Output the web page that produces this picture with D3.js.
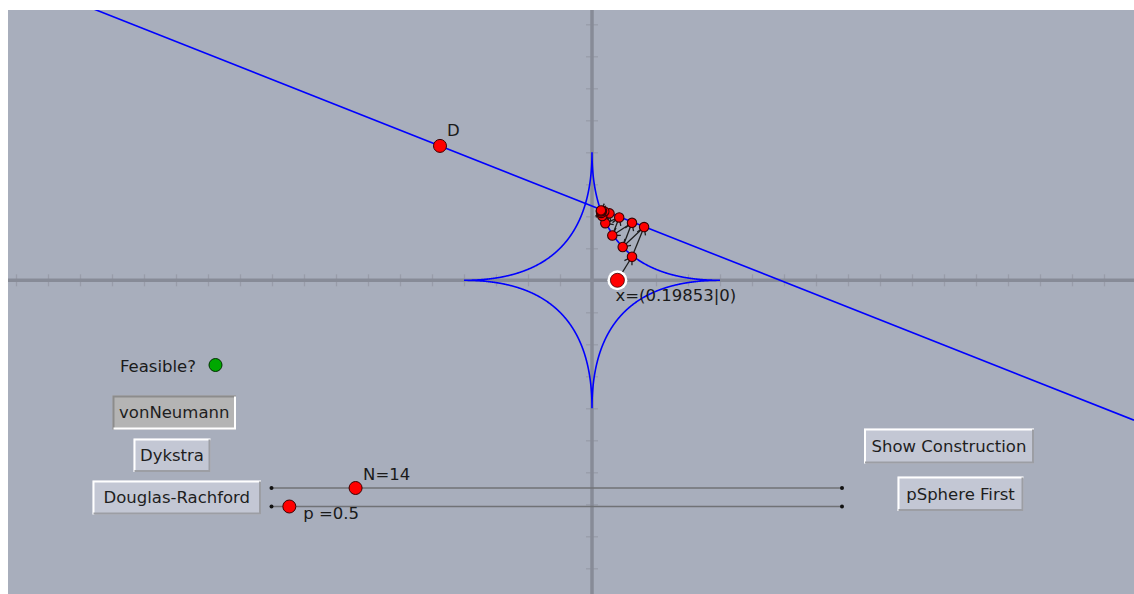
<!DOCTYPE html>
<html><head><meta charset="utf-8">
<script src="https://cdn.jsdelivr.net/npm/d3@7"></script>
<style>
body{margin:0;background:#fff}
svg{display:block;font-family:"DejaVu Sans",sans-serif}
</style>
</head><body>
<svg id="c" width="1134" height="594"></svg>
<script>
// ---------- data ----------
const pExponent = 0.5;           // p of the p-sphere
const iterCount = 14;            // N
const startPoint = [0.19853, 0]; // x
const pointD = [-1.1875, 1.05];  // D on the line
const lineAxisPoint = [1.46875, 0]; // second point defining the line
const curveIterates = [
  [0.3125, 0.184], [0.2398, 0.260], [0.1586, 0.350], [0.1039, 0.446],
  [0.080, 0.502], [0.072, 0.526], [0.0695, 0.538]
];
const lineIterates = [
  [0.4070, 0.416], [0.3125, 0.449], [0.2125, 0.491], [0.1367, 0.523],
  [0.096, 0.538], [0.078, 0.544], [0.070, 0.546]
];
const tickStep = 0.25;
const buttonLabels = ["vonNeumann", "Dykstra", "Douglas-Rachford", "Show Construction", "pSphere First"];
const buttonPressed = [true, false, false, false, false];
const sliderNames = ["N", "p "];
const sliderValues = [iterCount, pExponent];
const sliderMin = [0, 0];
const sliderMax = [95, 16];
const feasibleLabel = "Feasible?";

// ---------- layout ----------
const W = 1134, H = 594;
const plotLeft = 8, plotTop = 10;
const ox = 592, oy = 280.3, unit = 128;
const FS = 16.5;
const x = d3.scaleLinear().domain([(plotLeft - ox) / unit, (W - ox) / unit]).range([plotLeft, W]);
const y = d3.scaleLinear().domain([(oy - plotTop) / unit, (oy - H) / unit]).range([plotTop, H]);

const svg = d3.select("#c");
svg.append("defs").append("clipPath").attr("id", "plot")
  .append("rect").attr("x", plotLeft).attr("y", plotTop).attr("width", W - plotLeft).attr("height", H - plotTop);
svg.append("rect").attr("x", plotLeft).attr("y", plotTop).attr("width", W - plotLeft).attr("height", H - plotTop)
  .attr("fill", "#a8aebc");
const g = svg.append("g").attr("clip-path", "url(#plot)");

// axes
const [x0, x1] = x.domain(), [y1, y0] = y.domain();
const xTicks = d3.range(Math.ceil(x0 / tickStep) * tickStep, x1, tickStep);
const yTicks = d3.range(Math.ceil(y0 / tickStep) * tickStep, y1, tickStep);
const xAxis = g.append("g").attr("transform", `translate(0,${y(0) - 6})`)
  .call(d3.axisBottom(x).tickValues(xTicks).tickSize(12).tickFormat(""));
const yAxis = g.append("g").attr("transform", `translate(${x(0) + 6},0)`)
  .call(d3.axisLeft(y).tickValues(yTicks).tickSize(12).tickFormat(""));
[xAxis, yAxis].forEach(a => {
  a.select(".domain").remove();
  a.selectAll(".tick line").attr("stroke", "#989ca9").attr("stroke-width", 1.3);
});
g.append("line").attr("x1", plotLeft).attr("x2", W).attr("y1", y(0)).attr("y2", y(0))
  .attr("stroke", "#878b97").attr("stroke-width", 3.5);
g.append("line").attr("y1", plotTop).attr("y2", H).attr("x1", x(0)).attr("x2", x(0))
  .attr("stroke", "#878b97").attr("stroke-width", 3.5);

// p-sphere |x|^p + |y|^p = 1
const e = 2 / pExponent;
const th = d3.range(0, 2 * Math.PI + 1e-9, Math.PI / 1200);
const curvePts = th.map(t => {
  const c = Math.cos(t), s = Math.sin(t);
  return [Math.sign(c) * Math.pow(Math.abs(c), e), Math.sign(s) * Math.pow(Math.abs(s), e)];
});
g.append("path").datum(curvePts)
  .attr("d", d3.line().x(d => x(d[0])).y(d => y(d[1])))
  .attr("fill", "none").attr("stroke", "#0000ff").attr("stroke-width", 1.6);

// line through D
const slope = (lineAxisPoint[1] - pointD[1]) / (lineAxisPoint[0] - pointD[0]);
const lx = [x0, x1];
g.append("line")
  .attr("x1", x(lx[0])).attr("y1", y(pointD[1] + slope * (lx[0] - pointD[0])))
  .attr("x2", x(lx[1])).attr("y2", y(pointD[1] + slope * (lx[1] - pointD[0])))
  .attr("stroke", "#0000ff").attr("stroke-width", 1.6);

// iteration vectors
const chain = [startPoint];
curveIterates.forEach((c, i) => { chain.push(c); chain.push(lineIterates[i]); });
const segs = d3.pairs(chain);
const vg = g.append("g").attr("stroke", "#1e1e1e").attr("stroke-width", 1.3).attr("fill", "none");
segs.forEach(([a, b]) => {
  const ax = x(a[0]), ay = y(a[1]), bx = x(b[0]), by = y(b[1]);
  vg.append("line").attr("x1", ax).attr("y1", ay).attr("x2", bx).attr("y2", by);
  const ang = Math.atan2(by - ay, bx - ax), L = 8.5, s = 0.55;
  vg.append("path").attr("d",
    `M${bx - L * Math.cos(ang - s)},${by - L * Math.sin(ang - s)}L${bx},${by}L${bx - L * Math.cos(ang + s)},${by - L * Math.sin(ang + s)}`);
});

// iterate points
const allIter = [];
curveIterates.forEach((c, i) => { allIter.push(c); allIter.push(lineIterates[i]); });
g.selectAll("circle.it").data(allIter).join("circle").attr("class", "it")
  .attr("cx", d => x(d[0])).attr("cy", d => y(d[1])).attr("r", 4.7)
  .attr("fill", "#ff0000").attr("stroke", "#3a0000").attr("stroke-width", 1.1);

// D
g.append("circle").attr("cx", x(pointD[0])).attr("cy", y(pointD[1])).attr("r", 6.5)
  .attr("fill", "#ff0000").attr("stroke", "#3c0000").attr("stroke-width", 1);
g.append("text").attr("x", x(pointD[0]) + 7).attr("y", y(pointD[1]) - 10)
  .attr("font-size", FS).attr("fill", "#1a1a1a").text("D");

// start point x
g.append("circle").attr("cx", x(startPoint[0])).attr("cy", y(startPoint[1])).attr("r", 10)
  .attr("fill", "#ffffff");
g.append("circle").attr("cx", x(startPoint[0])).attr("cy", y(startPoint[1])).attr("r", 7)
  .attr("fill", "#ff0000").attr("stroke", "#3c0000").attr("stroke-width", 0.8);
g.append("text").attr("x", x(startPoint[0]) - 2).attr("y", y(startPoint[1]) + 21)
  .attr("font-size", FS).attr("fill", "#1a1a1a")
  .text(`x=(${startPoint[0]}|${startPoint[1]})`);

// Feasible?
svg.append("text").attr("x", 120).attr("y", 372).attr("font-size", FS).attr("fill", "#1a1a1a").text(feasibleLabel);
svg.append("circle").attr("cx", 215.5).attr("cy", 365).attr("r", 6.5)
  .attr("fill", "#00a800").attr("stroke", "#003000").attr("stroke-width", 1);

// buttons
const btnBoxes = [
  [112.5, 395.5, 123.5, 34], [133.5, 438.5, 77, 33.5], [92.5, 480.5, 168.5, 34],
  [864, 428.5, 170, 35], [897.5, 476.5, 126, 34.5]
];
buttonLabels.forEach((lab, i) => {
  const [bx, by, bw, bh] = btnBoxes[i];
  const pressed = buttonPressed[i];
  const bgC = svg.append("g");
  const tl = pressed ? "#8c8c8c" : "#ffffff", br = pressed ? "#ffffff" : "#9c9ea4";
  bgC.append("rect").attr("x", bx).attr("y", by).attr("width", bw).attr("height", bh)
    .attr("fill", pressed ? "#b4b4b4" : "#c3c7d4");
  bgC.append("path").attr("d", `M${bx + 1},${by + bh}V${by + 1}H${bx + bw}`)
    .attr("stroke", tl).attr("stroke-width", 2).attr("fill", "none");
  bgC.append("path").attr("d", `M${bx + 1},${by + bh - 1}H${bx + bw - 1}V${by + 1}`)
    .attr("stroke", br).attr("stroke-width", 2).attr("fill", "none");
  bgC.append("text").attr("x", bx + bw / 2).attr("y", by + bh / 2 + 5.9)
    .attr("text-anchor", "middle").attr("font-size", FS).attr("fill", "#1e1e1e").text(lab);
});

// sliders
const sliderX = d3.scaleLinear().range([271.5, 842]);
const sliderY = [488, 506.5];
sliderNames.forEach((nm, i) => {
  sliderX.domain([sliderMin[i], sliderMax[i]]);
  const sy = sliderY[i];
  svg.append("line").attr("x1", sliderX.range()[0]).attr("x2", sliderX.range()[1])
    .attr("y1", sy).attr("y2", sy).attr("stroke", "#707276").attr("stroke-width", 1.4);
  sliderX.range().forEach(ex => svg.append("circle").attr("cx", ex).attr("cy", sy).attr("r", 2).attr("fill", "#111"));
  const px = sliderX(sliderValues[i]);
  svg.append("circle").attr("cx", px).attr("cy", sy).attr("r", 6.5)
    .attr("fill", "#ff0000").attr("stroke", "#3c0000").attr("stroke-width", 1);
  const lbl = svg.append("text").attr("font-size", FS).attr("fill", "#1a1a1a").text(`${nm}=${sliderValues[i]}`);
  if (i === 0) lbl.attr("x", px + 7.5).attr("y", sy - 8);
  else lbl.attr("x", px + 14).attr("y", sy + 12);
});
</script>
</body></html>
